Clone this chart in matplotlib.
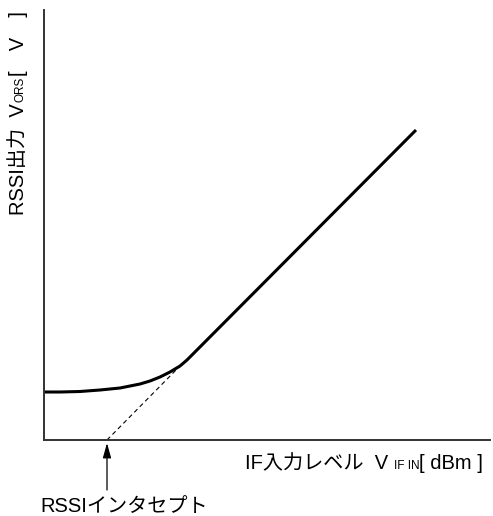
import matplotlib
matplotlib.use("Agg")
import matplotlib.pyplot as plt

plt.rcParams['font.family'] = ['Liberation Sans', 'Noto Sans CJK JP', 'DejaVu Sans']

# RSSI output curve (arbitrary units, no scale on the axes)
curve_x = [0, 16, 36, 56, 76, 96, 106, 116, 126, 136, 143, 372]
curve_y = [48, 48, 48.5, 50, 52, 56, 59, 63, 68, 74, 80, 310]

# straight-line extrapolation down to the intercept
intercept_x = [63, 136]
intercept_y = [0, 74]

x_label = ["IF入力レベル  V ", "IF IN", "[ dBm ]"]
y_label = ["RSSI出力  V", "ORS", "[\u3000V\u3000]"]
intercept_label = "RSSIインタセプト"

W, H = 493, 516
fig = plt.figure(figsize=(W / 100, H / 100), dpi=100)
ax = fig.add_axes([44 / W, (H - 440) / H, 446 / W, 430 / H])
ax.set_xlim(0, 446)
ax.set_ylim(0, 430)
for side in ["top", "right"]:
    ax.spines[side].set_visible(False)
for side in ["left", "bottom"]:
    ax.spines[side].set_color("#333333")
    ax.spines[side].set_linewidth(1.4)
ax.set_xticks([])
ax.set_yticks([])

ax.plot(curve_x, curve_y, color="black", linewidth=2.2, solid_capstyle="butt")
ax.plot(intercept_x, intercept_y, color="black", linewidth=0.8, linestyle=(0, (4, 3)))

ax.annotate("", xy=(intercept_x[0], -3), xytext=(intercept_x[0], -50),
            xycoords="data", textcoords="data", annotation_clip=False,
            arrowprops=dict(arrowstyle="-|>,head_length=0.9,head_width=0.25",
                            color="black", linewidth=0.9, shrinkA=0, shrinkB=0))

fig.text(40 / W, 1 - 512 / H, intercept_label, fontsize=14.5, ha="left", va="baseline")

fig.canvas.draw()
renderer = fig.canvas.get_renderer()


def chain(parts, x0, y0, rotation):
    # lay out label parts one after another, small middle part for the subscript
    x, y = x0, y0
    for i, part in enumerate(parts):
        size = 8.5 if i == 1 else 14.5
        t = fig.text(x / W, y / H, part, fontsize=size, rotation=rotation,
                     ha="left", va="baseline", rotation_mode="anchor")
        bb = t.get_window_extent(renderer)
        if rotation == 0:
            x += bb.width
        else:
            y += bb.height + 1


chain(x_label, 245, H - 469, 0)
chain(y_label, 24, H - 215, 90)

fig.savefig("out.png", dpi=100)
